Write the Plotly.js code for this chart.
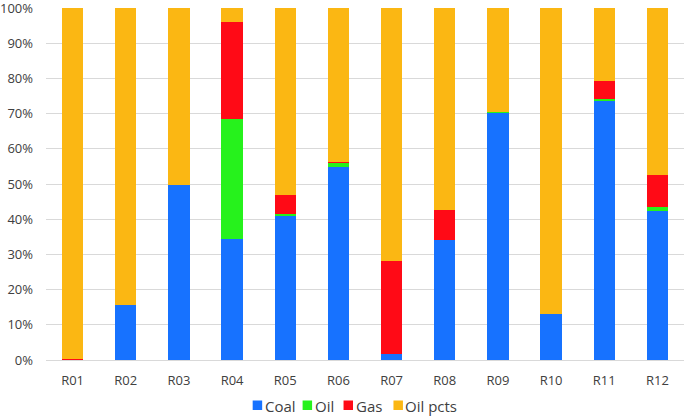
<!DOCTYPE html>
<html>
<head>
<meta charset="utf-8">
<script src="https://cdn.plot.ly/plotly-3.0.1.min.js"></script>
<style>html,body{margin:0;padding:0;background:#fff;}#chart{width:685px;height:416px;}</style>
</head>
<body>
<div id="chart"></div>
<script>
const categories = ["R01","R02","R03","R04","R05","R06","R07","R08","R09","R10","R11","R12"];
const coal    = [0.0, 15.5, 49.7, 34.3, 41.0, 54.9, 1.8, 34.2, 70.3, 13.0, 73.7, 42.3];
const oil     = [0.0, 0.0, 0.0, 34.3, 0.6, 1.0, 0.0, 0.0, 0.2, 0.0, 0.5, 1.2];
const gas     = [0.4, 0.0, 0.0, 27.4, 5.3, 0.4, 26.3, 8.3, 0.0, 0.0, 5.1, 9.1];
const oilPcts = [99.6, 84.5, 50.3, 4.0, 53.1, 43.7, 71.9, 57.5, 29.5, 87.0, 20.7, 47.4];

const names = ["Coal","Oil","Gas","Oil pcts"];
const colors = ["#1772FF","#26F21C","#FF0A16","#FBB713"];
const series = [coal, oil, gas, oilPcts];

const traces = series.map((vals, i) => ({
  type: "bar",
  name: names[i],
  x: categories,
  y: vals,
  marker: {color: colors[i], line: {width: 0}},
  showlegend: false
}));

// custom compact legend (Excel style: small square right before the text)
const W = 639, H = 352; // plot area size in px
const symLeft = [253, 303, 344, 394]; // px
const shapes = names.map((n, i) => ({
  type: "rect", xref: "paper", yref: "paper", layer: "above",
  x0: (symLeft[i] - 46) / W, x1: (symLeft[i] + 9.5 - 46) / W,
  y0: (360 - 400.5) / H, y1: (360 - 410) / H,
  fillcolor: colors[i], line: {width: 0}
}));
const annotations = names.map((n, i) => ({
  xref: "paper", yref: "paper",
  x: (symLeft[i] + 10 - 46) / W, y: (360 - 405.5) / H,
  xanchor: "left", yanchor: "middle",
  showarrow: false,
  xshift: 0,
  text: n,
  font: {family: "Open Sans, sans-serif", size: 15, color: "#404040"}
}));

const layout = {
  width: 685, height: 416,
  margin: {l: 46, r: 1, t: 8, b: 56},
  barmode: "stack",
  bargap: 0.6,
  paper_bgcolor: "#fff",
  plot_bgcolor: "#fff",
  font: {family: "Open Sans, sans-serif", size: 13, color: "#404040"},
  showlegend: false,
  annotations: annotations,
  shapes: shapes,
  xaxis: {
    type: "category",
    showgrid: false,
    showline: true, linecolor: "#d9d9d9", linewidth: 1,
    ticks: "", tickfont: {size: 13, color: "#404040"},
    ticklabelstandoff: 8
  },
  yaxis: {
    range: [0, 100], dtick: 10, ticksuffix: "%",
    showgrid: true, gridcolor: "#d9d9d9", gridwidth: 1,
    zeroline: false, showline: false,
    ticks: "", tickfont: {size: 13, color: "#404040"},
    ticklabelstandoff: 12,
    ticklabeloverflow: "allow"
  }
};

Plotly.newPlot("chart", traces, layout, {displayModeBar: false, staticPlot: true});
</script>
</body>
</html>
